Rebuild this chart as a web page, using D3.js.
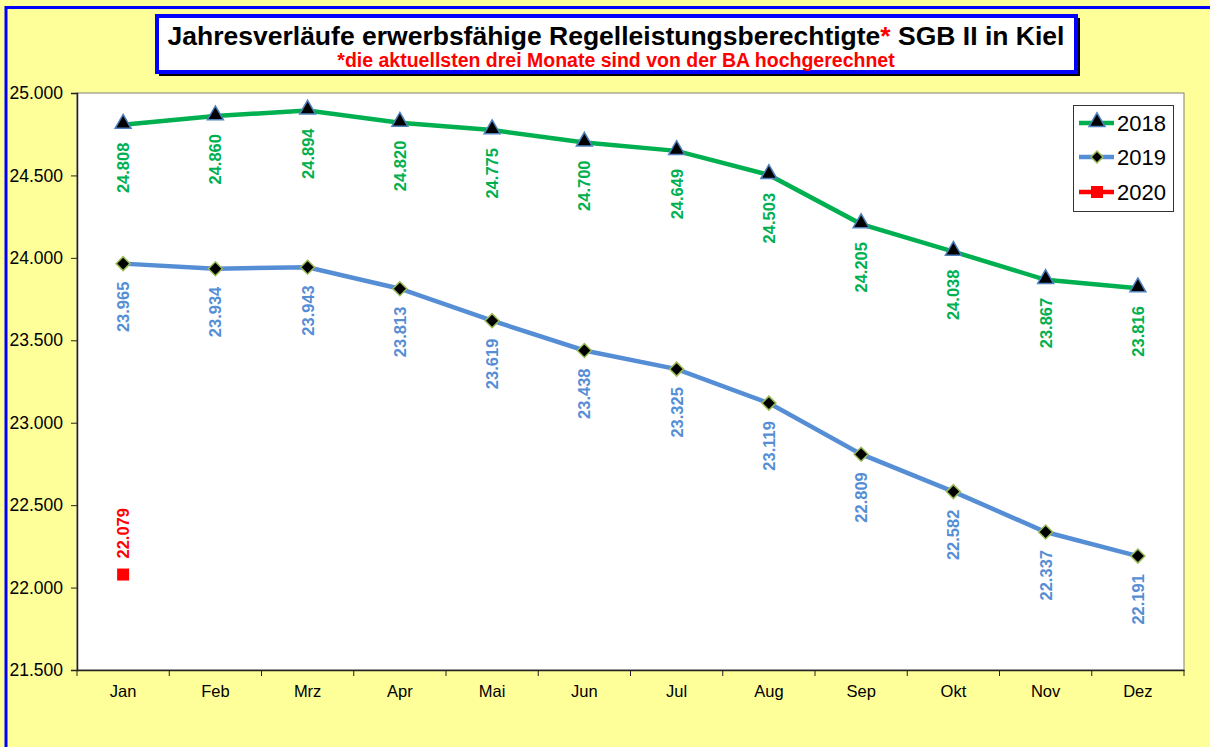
<!DOCTYPE html>
<html><head><meta charset="utf-8">
<script src="https://cdn.jsdelivr.net/npm/d3@7"></script>
<style>body{margin:0;background:#FFFF99;overflow:hidden}svg{display:block}</style>
</head><body>
<svg id="c" width="1210" height="747"></svg>
<script>
const months = ["Jan","Feb","Mrz","Apr","Mai","Jun","Jul","Aug","Sep","Okt","Nov","Dez"];
const values2018 = [24808,24860,24894,24820,24775,24700,24649,24503,24205,24038,23867,23816];
const values2019 = [23965,23934,23943,23813,23619,23438,23325,23119,22809,22582,22337,22191];
const values2020 = [22079];
const yTicks = [21500,22000,22500,23000,23500,24000,24500,25000];
const seriesNames = ["2018","2019","2020"];

const svg = d3.select("#c");
const fmt = v => d3.format(",")(v).replace(/,/g,".");
const FONT = "Liberation Sans, Arial";

svg.append("rect").attr("x",0).attr("y",0).attr("width",1210).attr("height",747).attr("fill","#FFFF99");
svg.append("rect").attr("x",6).attr("y",7.5).attr("width",1260).attr("height",800)
  .attr("fill","none").attr("stroke","#0000FF").attr("stroke-width",3);

const L=77,R=1184,T=93,B=670;
const x = d3.scaleBand().domain(months).range([L,R]);
const y = d3.scaleLinear().domain([21500,25000]).range([B,T]);

svg.append("rect").attr("x",L).attr("y",T).attr("width",R-L).attr("height",B-T)
  .attr("fill","#fff").attr("stroke","#808080").attr("stroke-width",1);

const yAxis = d3.axisLeft(y).tickValues(yTicks).tickFormat(fmt).tickSize(6).tickPadding(8);
const gy = svg.append("g").attr("transform",`translate(${L},0)`).call(yAxis);
gy.select(".domain").attr("stroke","#222").attr("stroke-width",1.5);
gy.selectAll(".tick line").attr("stroke","#222");
gy.selectAll("text").attr("font-family",FONT).attr("font-size",17.5).attr("fill","#000");

const xAxis = d3.axisBottom(x).tickSize(0).tickPadding(15);
const gx = svg.append("g").attr("transform",`translate(0,${B})`).call(xAxis);
gx.select(".domain").attr("stroke","#222").attr("stroke-width",1.5);
gx.selectAll("text").attr("font-family",FONT).attr("font-size",16.5).attr("fill","#000");
const bounds = months.map(m=>x(m)).concat([R]);
svg.append("g").selectAll("line").data(bounds).join("line")
  .attr("x1",d=>d).attr("x2",d=>d).attr("y1",B).attr("y2",B+6).attr("stroke","#222");

const cx = m => x(m)+x.bandwidth()/2;
const line = d3.line().x((d,i)=>cx(months[i])).y(d=>y(d));

const green="#00B050", blue="#558ED5", red="#FF0000";

svg.append("path").datum(values2018).attr("d",line).attr("fill","none").attr("stroke",green).attr("stroke-width",4.5);
svg.append("path").datum(values2019).attr("d",line).attr("fill","none").attr("stroke",blue).attr("stroke-width",4.5);

const tri = d3.symbol().type(d3.symbolTriangle).size(110);
const dia = (s)=>`M0,${-s}L${s},0L0,${s}L${-s},0Z`;

svg.append("g").selectAll("path").data(values2018).join("path")
  .attr("d",tri).attr("transform",(d,i)=>`translate(${cx(months[i])},${y(d)-1})`)
  .attr("fill","#000").attr("stroke","#4F81BD").attr("stroke-width",1.5);
svg.append("g").selectAll("path").data(values2019).join("path")
  .attr("d",dia(7)).attr("transform",(d,i)=>`translate(${cx(months[i])},${y(d)})`)
  .attr("fill","#000").attr("stroke","#9BBB59").attr("stroke-width",1.5);
svg.append("g").selectAll("rect").data(values2020).join("rect")
  .attr("x",(d,i)=>cx(months[i])-6).attr("y",d=>y(d)-6).attr("width",12).attr("height",12).attr("fill",red);

function labels(vals,color,below){
  svg.append("g").selectAll("text").data(vals).join("text")
    .attr("transform",(d,i)=>`translate(${cx(months[i])+6},${below? y(d)+18 : y(d)-16}) rotate(-90)`)
    .attr("text-anchor",below?"end":"start")
    .attr("font-family",FONT).attr("font-weight","bold").attr("font-size",16.5)
    .attr("fill",color).text(d=>fmt(d));
}
labels(values2018,green,true);
labels(values2019,blue,true);
labels(values2020,red,false);

const lg = svg.append("g");
lg.append("rect").attr("x",1073.5).attr("y",105.5).attr("width",100).attr("height",106)
  .attr("fill","#fff").attr("stroke","#333").attr("stroke-width",1);
const ly = [123,157,192];
const lcol=[green,blue,red];
seriesNames.forEach((n,i)=>{
  lg.append("line").attr("x1",1079).attr("x2",1114).attr("y1",ly[i]).attr("y2",ly[i])
    .attr("stroke",lcol[i]).attr("stroke-width",4.5);
  if(i===0) lg.append("path").attr("d",tri).attr("transform",`translate(1097,${ly[i]-1})`)
    .attr("fill","#000").attr("stroke","#4F81BD").attr("stroke-width",1.5);
  if(i===1) lg.append("path").attr("d",dia(6)).attr("transform",`translate(1097,${ly[i]})`)
    .attr("fill","#000").attr("stroke","#9BBB59").attr("stroke-width",1.5);
  if(i===2) lg.append("rect").attr("x",1091).attr("y",ly[i]-6).attr("width",12).attr("height",12).attr("fill",red);
  lg.append("text").attr("x",1117).attr("y",ly[i]+8).attr("font-family",FONT)
    .attr("font-size",22).attr("fill","#000").text(n);
});

const tb = svg.append("g");
tb.append("rect").attr("x",159).attr("y",18).attr("width",921).attr("height",58).attr("fill","#000");
tb.append("rect").attr("x",157).attr("y",16).attr("width",919).attr("height",56)
  .attr("fill","#fff").attr("stroke","#0000FF").attr("stroke-width",4);
const t1 = tb.append("text").attr("x",616).attr("y",45).attr("text-anchor","middle")
  .attr("font-family",FONT).attr("font-weight","bold").attr("font-size",26.5).attr("fill","#000");
t1.append("tspan").text("Jahresverläufe erwerbsfähige Regelleistungsberechtigte");
t1.append("tspan").attr("fill",red).text("*");
t1.append("tspan").text(" SGB II in Kiel");
tb.append("text").attr("x",616).attr("y",67).attr("text-anchor","middle")
  .attr("font-family",FONT).attr("font-weight","bold").attr("font-size",19.5).attr("fill",red)
  .text("*die aktuellsten drei Monate sind von der BA hochgerechnet");
</script>
</body></html>
